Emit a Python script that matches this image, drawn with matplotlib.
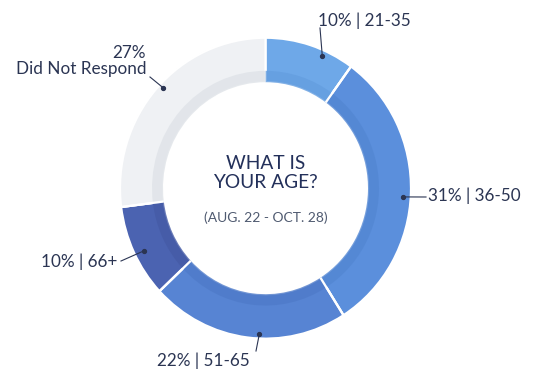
import numpy as np
import matplotlib.pyplot as plt

# survey answers
groups = ['21-35', '36-50', '51-65', '66+', 'Did Not Respond']
shares = [10, 31, 22, 10, 27]
ring_colors = ['#6ea8e8', '#5b8fdc', '#5784d3', '#4b63b1', '#eff1f4']
band_colors = ['#649ee0', '#5387d3', '#4f7bc9', '#455ba6', '#dfe3e8']

W, H = 547, 373
sy = 1.034          # ring is a touch taller than wide
cx, cy_px = 265.5, 188.2
R = 145.5
ring_w = 43

def px(x, y):
    return x, (H - y) / sy

plt.rcParams['font.family'] = ['Lato', 'DejaVu Sans']
text_c = '#2b3553'

fig = plt.figure(figsize=(W / 100, H / 100), dpi=100)
ax = fig.add_axes([0, 0, 1, 1])
center = px(cx, cy_px)

ax.pie(shares, colors=ring_colors, radius=R, center=center, startangle=90,
       counterclock=False, wedgeprops=dict(width=ring_w, edgecolor='white', linewidth=1.6))
# darker shading along the inside of the ring
ax.pie(shares, colors=band_colors, radius=R - ring_w + 11, center=center, startangle=90,
       counterclock=False, wedgeprops=dict(width=11, edgecolor='none', alpha=0.8))
# redraw separators over the shading band
bounds = np.cumsum([0] + shares)[:-1] * 3.6
for b in bounds[1:]:
    a = np.radians(b)
    r0, r1 = R - ring_w, R
    ax.plot([center[0] + r0 * np.sin(a), center[0] + r1 * np.sin(a)],
            [center[1] + r0 * np.cos(a), center[1] + r1 * np.cos(a)],
            color='white', lw=1.6, solid_capstyle='butt')

ax.set_xlim(0, W)
ax.set_ylim(0, H / sy)
ax.set_aspect('auto')
ax.axis('off')

# label text, leader dot angle (clockwise from top), line end in pixels
labels = ['10% | 21-35', '31% | 36-50', '22% | 51-65', '10% | 66+', '27%\nDid Not Respond']
dot_angles = [24, 93.5, 182.5, 243.5, 313.5]
dot_r = [0.96, 0.95, 0.97, 0.93, 0.97]
line_ends = [(320, 28), (426, 197), (256, 351), (121, 261), (150, 77)]
text_pos = [(318, 21, 'left', 'center'), (428, 196, 'left', 'center'),
            (203, 361, 'center', 'center'), (117, 262, 'right', 'center'),
            (146, 61, 'right', 'center')]

for lab, ang, rr, end, tp in zip(labels, dot_angles, dot_r, line_ends, text_pos):
    a = np.radians(ang)
    dx = center[0] + rr * R * np.sin(a)
    dy = center[1] + rr * R * np.cos(a)
    ex, ey = px(*end)
    ax.plot([dx, ex], [dy, ey], color=text_c, lw=0.8)
    ax.plot(dx, dy, 'o', color=text_c, ms=2.8)
    tx, ty = px(tp[0], tp[1])
    ax.text(tx, ty, lab, ha=tp[2], va=tp[3], fontsize=12.3, color=text_c,
            multialignment='right', linespacing=1.05)

ax.text(*px(cx, 173), 'WHAT IS\nYOUR AGE?', ha='center', va='center',
        fontsize=13.8, color='#23305a', linespacing=1.1)
ax.text(*px(cx, 218), '(AUG. 22 - OCT. 28)', ha='center', va='center',
        fontsize=10, color='#4f5a70')

fig.savefig('out.png', dpi=100)
